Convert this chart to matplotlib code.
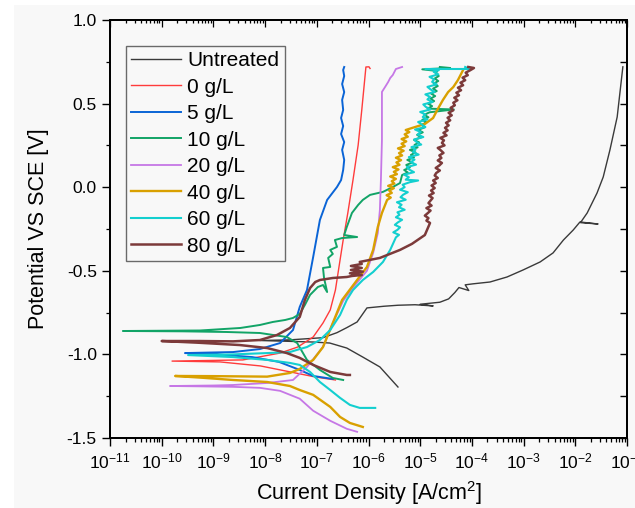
import matplotlib

matplotlib.use("Agg")
import matplotlib.pyplot as plt
import numpy as np
from matplotlib.patches import Rectangle
from matplotlib.ticker import FormatStrFormatter, LogLocator, MultipleLocator, NullFormatter

plt.rcParams["font.family"] = ["Liberation Sans", "DejaVu Sans"]
plt.rcParams["axes.unicode_minus"] = False
plt.rcParams["mathtext.fontset"] = "custom"
plt.rcParams["mathtext.rm"] = "Liberation Sans"
plt.rcParams["mathtext.default"] = "regular"

# log10 of current density [A/cm2] and potential [V], cathodic end -> Ecorr -> anodic end
UNTREATED_LOGI = [-5.43, -5.78, -6.11, -6.42, -6.75, -7.07, -7.52, -8.10,
                  -7.52, -6.88, -6.61, -6.42, -6.22, -6.03, -5.70, -5.43, -5.10, -4.75, -5.00,
                  -4.62, -4.45, -4.33, -4.25, -4.06, -4.13, -3.98, -3.65, -3.32, -3.01, -2.68,
                  -2.43, -2.23, -2.04, -1.91, -1.56, -1.90, -1.77, -1.58, -1.46, -1.33, -1.19, -1.08]
UNTREATED_E = [-1.195, -1.075, -1.016, -0.962, -0.932, -0.926, -0.922, -0.917,
               -0.913, -0.900, -0.870, -0.840, -0.806, -0.722, -0.712, -0.706, -0.703, -0.710, -0.700,
               -0.688, -0.668, -0.630, -0.600, -0.618, -0.584, -0.578, -0.567, -0.537, -0.495, -0.447,
               -0.393, -0.316, -0.256, -0.208, -0.220, -0.212, -0.154, -0.035, 0.061, 0.223, 0.420, 0.720]

RED_LOGI = [-6.64, -7.03, -7.51, -8.09, -8.87, -9.80,
            -8.43, -7.71, -7.37, -7.07, -6.88, -6.74, -6.64, -6.55, -6.49, -6.40, -6.30,
            -6.20, -6.13, -6.05, -5.99, -5.97]
RED_E = [-1.153, -1.135, -1.105, -1.069, -1.045, -1.040,
         -1.033, -0.992, -0.956, -0.896, -0.812, -0.734, -0.615, -0.435, -0.316, -0.154, 0.043,
         0.252, 0.462, 0.719, 0.720, 0.710]

BLUE_LOGI = [-6.69, -7.07, -7.33, -7.73, -8.25, -9.00, -9.55,
             -8.62, -8.10, -7.71, -7.46, -7.33, -7.19, -7.07, -6.94, -6.80, -6.61, -6.53,
             -6.49, -6.47, -6.51, -6.47, -6.53, -6.49, -6.53, -6.49, -6.51, -6.47, -6.51,
             -6.47, -6.49, -6.47]
BLUE_E = [-1.147, -1.129, -1.093, -1.045, -1.016, -0.998, -0.992,
          -0.986, -0.968, -0.932, -0.854, -0.716, -0.615, -0.417, -0.196, -0.076, 0.001, 0.043,
          0.103, 0.163, 0.223, 0.270, 0.318, 0.366, 0.414, 0.462, 0.522, 0.569, 0.617,
          0.665, 0.701, 0.719]

GREEN_LOGI = [-6.49, -6.69, -6.94, -7.19, -7.38, -7.58, -8.10, -8.74, -9.60, -10.75,
              -9.26, -8.48, -8.10, -7.85, -7.61, -7.46, -7.33, -7.23, -7.13, -6.98, -6.88,
              -6.80, -6.86, -6.88, -6.74, -6.78, -6.69, -6.74, -6.61, -6.65, -6.51, -6.22,
              -6.47, -6.42, -6.32, -6.20, -6.11, -5.97, -5.72, -5.53, -5.39, -5.35,
              -5.24, -5.31, -5.20, -5.27, -5.15, -5.25, -5.12, -5.18, -5.09, -5.20, -5.05,
              -5.11, -5.02, -5.12, -4.98, -5.06, -4.95, -5.04, -4.91, -4.97, -4.88, -4.96,
              -4.84, -4.92, -4.82, -4.35, -4.86, -4.77, -4.85, -4.73, -4.80, -4.71, -4.79,
              -4.68, -4.75, -4.66, -4.74, -4.65, -4.72, -4.64, -4.70, -4.67, -4.96, -4.42, -4.62]
GREEN_E = [-1.153, -1.141, -1.093, -1.033, -0.932, -0.896, -0.872, -0.866, -0.862, -0.860,
           -0.857, -0.842, -0.824, -0.806, -0.794, -0.782, -0.758, -0.704, -0.644, -0.597, -0.585,
           -0.627, -0.543, -0.483, -0.477, -0.423, -0.399, -0.375, -0.357, -0.316, -0.304, -0.298,
           -0.286, -0.238, -0.154, -0.106, -0.076, -0.046, -0.028, 0.001, 0.025, 0.073,
           0.088, 0.103, 0.118, 0.133, 0.148, 0.163, 0.178, 0.193, 0.208, 0.223, 0.238,
           0.253, 0.268, 0.283, 0.298, 0.313, 0.328, 0.343, 0.358, 0.373, 0.388, 0.403,
           0.418, 0.433, 0.448, 0.465, 0.470, 0.485, 0.500, 0.515, 0.530, 0.545, 0.560,
           0.575, 0.590, 0.605, 0.620, 0.635, 0.650, 0.665, 0.680, 0.695, 0.705, 0.713, 0.719]

PURPLE_LOGI = [-6.22, -6.42, -6.74, -7.07, -7.33, -7.71, -8.10, -8.62, -9.30, -9.84,
               -9.00, -8.62, -7.96, -7.46, -7.19, -6.88, -6.69, -6.49, -6.30, -6.03, -5.91,
               -5.82, -5.78, -5.76, -5.74, -5.74, -5.74, -5.68, -5.62, -5.58, -5.53, -5.47, -5.35]
PURPLE_E = [-1.463, -1.445, -1.397, -1.337, -1.265, -1.218, -1.200, -1.194, -1.191, -1.189,
            -1.186, -1.183, -1.171, -1.153, -1.075, -0.956, -0.812, -0.680, -0.600, -0.500, -0.393,
            -0.274, -0.136, 0.043, 0.283, 0.522, 0.570, 0.599, 0.629, 0.653, 0.671, 0.707, 0.719]

ORANGE_LOGI = [-6.11, -6.36, -6.55, -6.74, -7.07, -7.33, -7.52, -7.96, -8.62, -9.20, -9.74,
               -9.00, -7.96, -7.52, -7.33, -7.07, -6.88, -6.69, -6.51, -6.22, -6.03, -5.91,
               -5.82, -5.74, -5.64, -5.57, -5.65, -5.55, -5.60, -5.51, -5.62, -5.50, -5.55,
               -5.47, -5.58, -5.45, -5.51, -5.42, -5.53, -5.40, -5.46, -5.37, -5.47, -5.35,
               -5.41, -5.32, -5.43, -5.30, -5.36, -5.27, -5.36, -5.24, -5.30, -5.21, -5.28, -5.16,
               -4.91, -4.75, -4.67, -4.56, -4.46, -4.36, -4.27, -4.21, -4.17]
ORANGE_E = [-1.434, -1.410, -1.374, -1.314, -1.242, -1.213, -1.189, -1.165, -1.153, -1.140, -1.129,
            -1.130, -1.133, -1.111, -1.087, -1.033, -0.956, -0.812, -0.674, -0.555, -0.477, -0.375,
            -0.238, -0.154, -0.076, -0.062, -0.048, -0.034, -0.020, -0.006, 0.008, 0.022, 0.036,
            0.050, 0.064, 0.078, 0.092, 0.106, 0.120, 0.134, 0.148, 0.162, 0.176, 0.190,
            0.204, 0.218, 0.232, 0.246, 0.260, 0.274, 0.288, 0.302, 0.316, 0.330, 0.342, 0.354,
            0.378, 0.414, 0.462, 0.522, 0.569, 0.599, 0.641, 0.677, 0.701]

CYAN_LOGI = [-5.87, -6.17, -6.36, -6.55, -6.74, -6.94, -7.13, -7.33, -7.52, -7.96, -8.62, -9.49,
             -8.62, -7.96, -7.52, -7.33, -7.19, -6.94, -6.74, -6.55, -6.42, -6.30, -6.11,
             -5.91, -5.72, -5.58, -5.47, -5.41, -5.52, -5.44, -5.39, -5.49, -5.43, -5.35,
             -5.47, -5.40, -5.44, -5.30, -5.41, -5.36, -5.45, -5.28, -5.38, -5.33, -5.24,
             -5.39, -5.30, -5.34, -5.20, -5.04, -5.28, -5.22, -5.31, -5.12, -5.21, -5.26,
             -5.08, -5.18, -5.11, -5.22, -5.03, -5.14, -5.09, -5.17, -4.98, -5.07, -5.12,
             -4.94, -5.05, -4.99, -5.10, -4.90, -4.97, -5.04, -4.86, -4.95, -4.90, -5.00,
             -4.80, -4.89, -4.94, -4.76, -4.86, -4.81, -4.90, -4.72, -4.80, -4.86, -4.68,
             -4.77, -4.73, -4.82, -4.65, -4.74, -4.64, -4.90, -4.04, -4.13]
CYAN_E = [-1.320, -1.320, -1.302, -1.260, -1.213, -1.165, -1.105, -1.063, -1.051, -1.033, -1.016, -1.004,
          -1.000, -0.992, -0.986, -0.968, -0.956, -0.914, -0.854, -0.764, -0.674, -0.615, -0.555,
          -0.507, -0.447, -0.375, -0.300, -0.285, -0.270, -0.255, -0.240, -0.225, -0.210, -0.195,
          -0.180, -0.165, -0.150, -0.135, -0.120, -0.105, -0.090, -0.075, -0.060, -0.045, -0.030,
          -0.015, 0.000, 0.015, 0.030, 0.040, 0.045, 0.060, 0.075, 0.090, 0.105, 0.120,
          0.135, 0.150, 0.165, 0.180, 0.195, 0.210, 0.225, 0.240, 0.255, 0.270, 0.285,
          0.300, 0.315, 0.330, 0.345, 0.360, 0.375, 0.390, 0.405, 0.420, 0.435, 0.450,
          0.465, 0.480, 0.495, 0.510, 0.525, 0.540, 0.555, 0.570, 0.585, 0.600, 0.615,
          0.630, 0.645, 0.660, 0.675, 0.690, 0.700, 0.707, 0.707, 0.719]

BROWN_LOGI = [-6.36, -6.42, -6.74, -7.07, -7.33, -7.58, -7.96, -8.49, -9.30, -10.00,
              -9.26, -8.62, -8.10, -7.77, -7.52, -7.33, -7.23, -7.13, -7.03, -6.94, -6.69,
              -6.42, -6.32, -6.13, -6.36, -6.11, -6.34, -6.13, -6.34, -6.13, -6.17, -5.78,
              -5.39, -5.16, -4.91, -4.81, -4.88, -4.84, -4.91, -4.85, -4.80, -4.88, -4.78,
              -4.84, -4.80, -4.76, -4.83, -4.74, -4.79, -4.72, -4.78, -4.70, -4.75, -4.66,
              -4.72, -4.69, -4.62, -4.70, -4.63, -4.58, -4.66, -4.59, -4.63, -4.55, -4.60,
              -4.66, -4.53, -4.58, -4.54, -4.61, -4.49, -4.55, -4.47, -4.52, -4.45, -4.50,
              -4.42, -4.47, -4.39, -4.45, -4.36, -4.41, -4.33, -4.36, -4.28, -4.34, -4.25,
              -4.30, -4.21, -4.27, -4.17, -4.22, -4.13, -4.18, -4.08, -4.12, -4.03, -3.96, -4.07]
BROWN_E = [-1.123, -1.123, -1.105, -1.063, -1.021, -0.992, -0.962, -0.944, -0.930, -0.920,
           -0.920, -0.922, -0.914, -0.884, -0.842, -0.776, -0.674, -0.603, -0.567, -0.555, -0.543,
           -0.537, -0.531, -0.525, -0.515, -0.505, -0.495, -0.483, -0.471, -0.459, -0.447, -0.423,
           -0.375, -0.339, -0.286, -0.214, -0.200, -0.185, -0.170, -0.154, -0.140, -0.125, -0.110,
           -0.095, -0.080, -0.065, -0.050, -0.035, -0.020, -0.005, 0.010, 0.025, 0.040, 0.055,
           0.070, 0.085, 0.100, 0.115, 0.130, 0.145, 0.160, 0.175, 0.190, 0.205, 0.220,
           0.235, 0.250, 0.265, 0.280, 0.295, 0.310, 0.325, 0.340, 0.355, 0.370, 0.385,
           0.400, 0.415, 0.430, 0.445, 0.460, 0.475, 0.490, 0.505, 0.520, 0.535, 0.550,
           0.565, 0.580, 0.595, 0.610, 0.625, 0.640, 0.655, 0.670, 0.685, 0.700, 0.713, 0.719]

SERIES = [
    ("Untreated", UNTREATED_LOGI, UNTREATED_E, "#3a3a3a", 1.0),
    ("0 g/L", RED_LOGI, RED_E, "#ff3b3b", 1.0),
    ("5 g/L", BLUE_LOGI, BLUE_E, "#0a64d6", 1.4),
    ("10 g/L", GREEN_LOGI, GREEN_E, "#12a467", 1.4),
    ("20 g/L", PURPLE_LOGI, PURPLE_E, "#c677e6", 1.3),
    ("40 g/L", ORANGE_LOGI, ORANGE_E, "#d9a000", 1.7),
    ("60 g/L", CYAN_LOGI, CYAN_E, "#13cfcf", 1.5),
    ("80 g/L", BROWN_LOGI, BROWN_E, "#7c3a3a", 1.8),
]

fig = plt.figure(figsize=(6.35, 5.08), dpi=100)
fig.patches.append(Rectangle((14 / 635, 0), 1, 1 - 5 / 508, transform=fig.transFigure,
                             facecolor="#f8f8f8", edgecolor="none", zorder=-10))
ax = fig.add_axes([110 / 635, 70 / 508, 517 / 635, 418 / 508])
ax.patch.set_alpha(0)

for label, logi, pot, color, lw in SERIES:
    ax.plot(10.0 ** np.array(logi), pot, color=color, linewidth=lw, label=label)

ax.set_xscale("log")
ax.set_xlim(1e-11, 1e-1)
ax.set_ylim(-1.5, 1.0)
ax.xaxis.set_major_locator(LogLocator(base=10, numticks=15))
ax.xaxis.set_minor_locator(LogLocator(base=10, subs=np.arange(2, 10), numticks=15))
ax.xaxis.set_minor_formatter(NullFormatter())
ax.yaxis.set_major_locator(MultipleLocator(0.5))
ax.yaxis.set_minor_locator(MultipleLocator(0.25))
ax.yaxis.set_major_formatter(FormatStrFormatter("%.1f"))
ax.tick_params(which="major", direction="out", length=5.5, width=1.0, labelsize=12.5, pad=4)
ax.tick_params(which="minor", direction="out", length=3, width=0.9)

ax_top = ax.twiny()
ax_top.set_xscale("log")
ax_top.set_xlim(1e-11, 1e-1)
ax_top.xaxis.set_major_locator(LogLocator(base=10, numticks=15))
ax_top.xaxis.set_minor_locator(LogLocator(base=10, subs=np.arange(2, 10), numticks=15))
ax_top.tick_params(which="both", direction="in", labeltop=False, width=0.9)
ax_top.tick_params(which="major", length=5)
ax_top.tick_params(which="minor", length=2.5)

ax_right = ax.twinx()
ax_right.set_ylim(-1.5, 1.0)
ax_right.yaxis.set_major_locator(MultipleLocator(0.25))
ax_right.tick_params(direction="in", length=5, width=1.0, labelright=False)

for a in (ax, ax_top, ax_right):
    for spine in a.spines.values():
        spine.set_linewidth(1.2)

ax.set_xlabel("Current Density [A/cm$^2$]", fontsize=15.5, labelpad=6)
ax.set_ylabel("Potential VS SCE [V]", fontsize=15.5, labelpad=13)

legend = ax.legend(loc="upper left", bbox_to_anchor=(16 / 517, 392 / 418), borderaxespad=0,
                   fontsize=15, handlelength=2.4, handletextpad=0.3, labelspacing=0.36,
                   borderpad=0.25, fancybox=False, framealpha=1)
legend.get_frame().set_edgecolor("#6a6a6a")
legend.get_frame().set_facecolor("#f8f8f8")
legend.get_frame().set_linewidth(1.0)
legend.set_zorder(5)

fig.savefig("out.png", dpi=100)
